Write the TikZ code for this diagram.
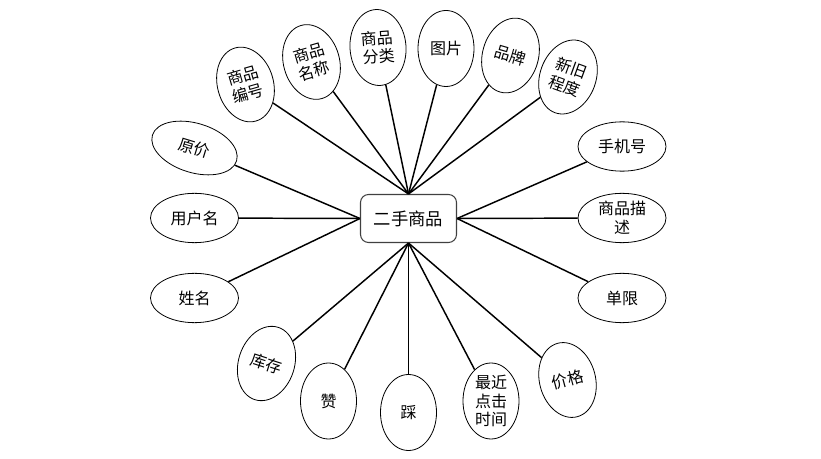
\documentclass[tikz,border=0pt]{standalone}
\usepackage{fontspec}
\setmainfont{Noto Sans CJK SC}
\usetikzlibrary{shapes.geometric}
\tikzset{
	entity/.style={rectangle, rounded corners=6pt, draw=black!75, line width=0.8pt, minimum width=72pt, minimum height=36pt, align=center, fill=white, font=\fontsize{13}{15}\selectfont},
	attr/.style  ={ellipse, draw=black, line width=0.6pt, inner sep=0pt, align=center, fill=white, font=\fontsize{12}{14}\selectfont},
	attrw/.style ={attr, minimum width=66pt, minimum height=37pt},
	attrt/.style ={attr, minimum width=42pt, minimum height=57pt},
	link/.style  ={line width=1.1pt},
}
\begin{document}
\begin{tikzpicture}[x=0.75pt, y=-0.75pt]
	\useasboundingbox (0,0) rectangle (821,459);
	% entity
	\node[entity] (box) at (408.5,218.5) {二手商品};
	% attributes above
	\node[attrt, rotate=16]  (bh) at (245.5,84.5) {商品\\编号};
	\node[attrt, rotate=16]  (mc) at (311.5,62)   {商品\\名称};
	\node[attrt, rotate=4]   (fl) at (378,47.5)   {商品\\分类};
	\node[attrt]             (tp) at (446,48.5)   {图片};
	\node[attrt, rotate=-16] (pp) at (510.5,55.5) {品牌};
	\node[attrt, rotate=-20] (xj) at (568,77)     {新旧\\程度};
	% attributes left and right
	\node[attrw, rotate=-17] (yj) at (194.5,148) {原价};
	\node[attrw]             (yh) at (194.5,218) {用户名};
	\node[attrw]             (xm) at (194.5,298) {姓名};
	\node[attrw]             (sj) at (622,146.5) {手机号};
	\node[attrw]             (ms) at (622,218)   {商品描\\述};
	\node[attrw]             (dx) at (622,298)   {单限};
	% attributes below
	\node[attrt, rotate=-18] (kc)  at (266.5,363.5) {库存};
	\node[attrt]             (zan) at (328.5,401)   {赞};
	\node[attrt]             (cai) at (408.5,412.5) {踩};
	\node[attrt]             (zj)  at (491,401)     {最近\\点击\\时间};
	\node[attrt, rotate=15]  (jg)  at (567.5,380)   {价格};
	% connectors
	\foreach \n in {bh,mc,fl,tp,pp,xj}
		\draw[link] (\n) -- (box.north);
	\foreach \n in {yj,yh,xm}
		\draw[link] (\n) -- (box.west);
	\foreach \n in {sj,ms,dx}
		\draw[link] (\n) -- (box.east);
	\foreach \n in {kc,zan,cai,zj,jg}
		\draw[link] (\n) -- (box.south);
\end{tikzpicture}
\end{document}
